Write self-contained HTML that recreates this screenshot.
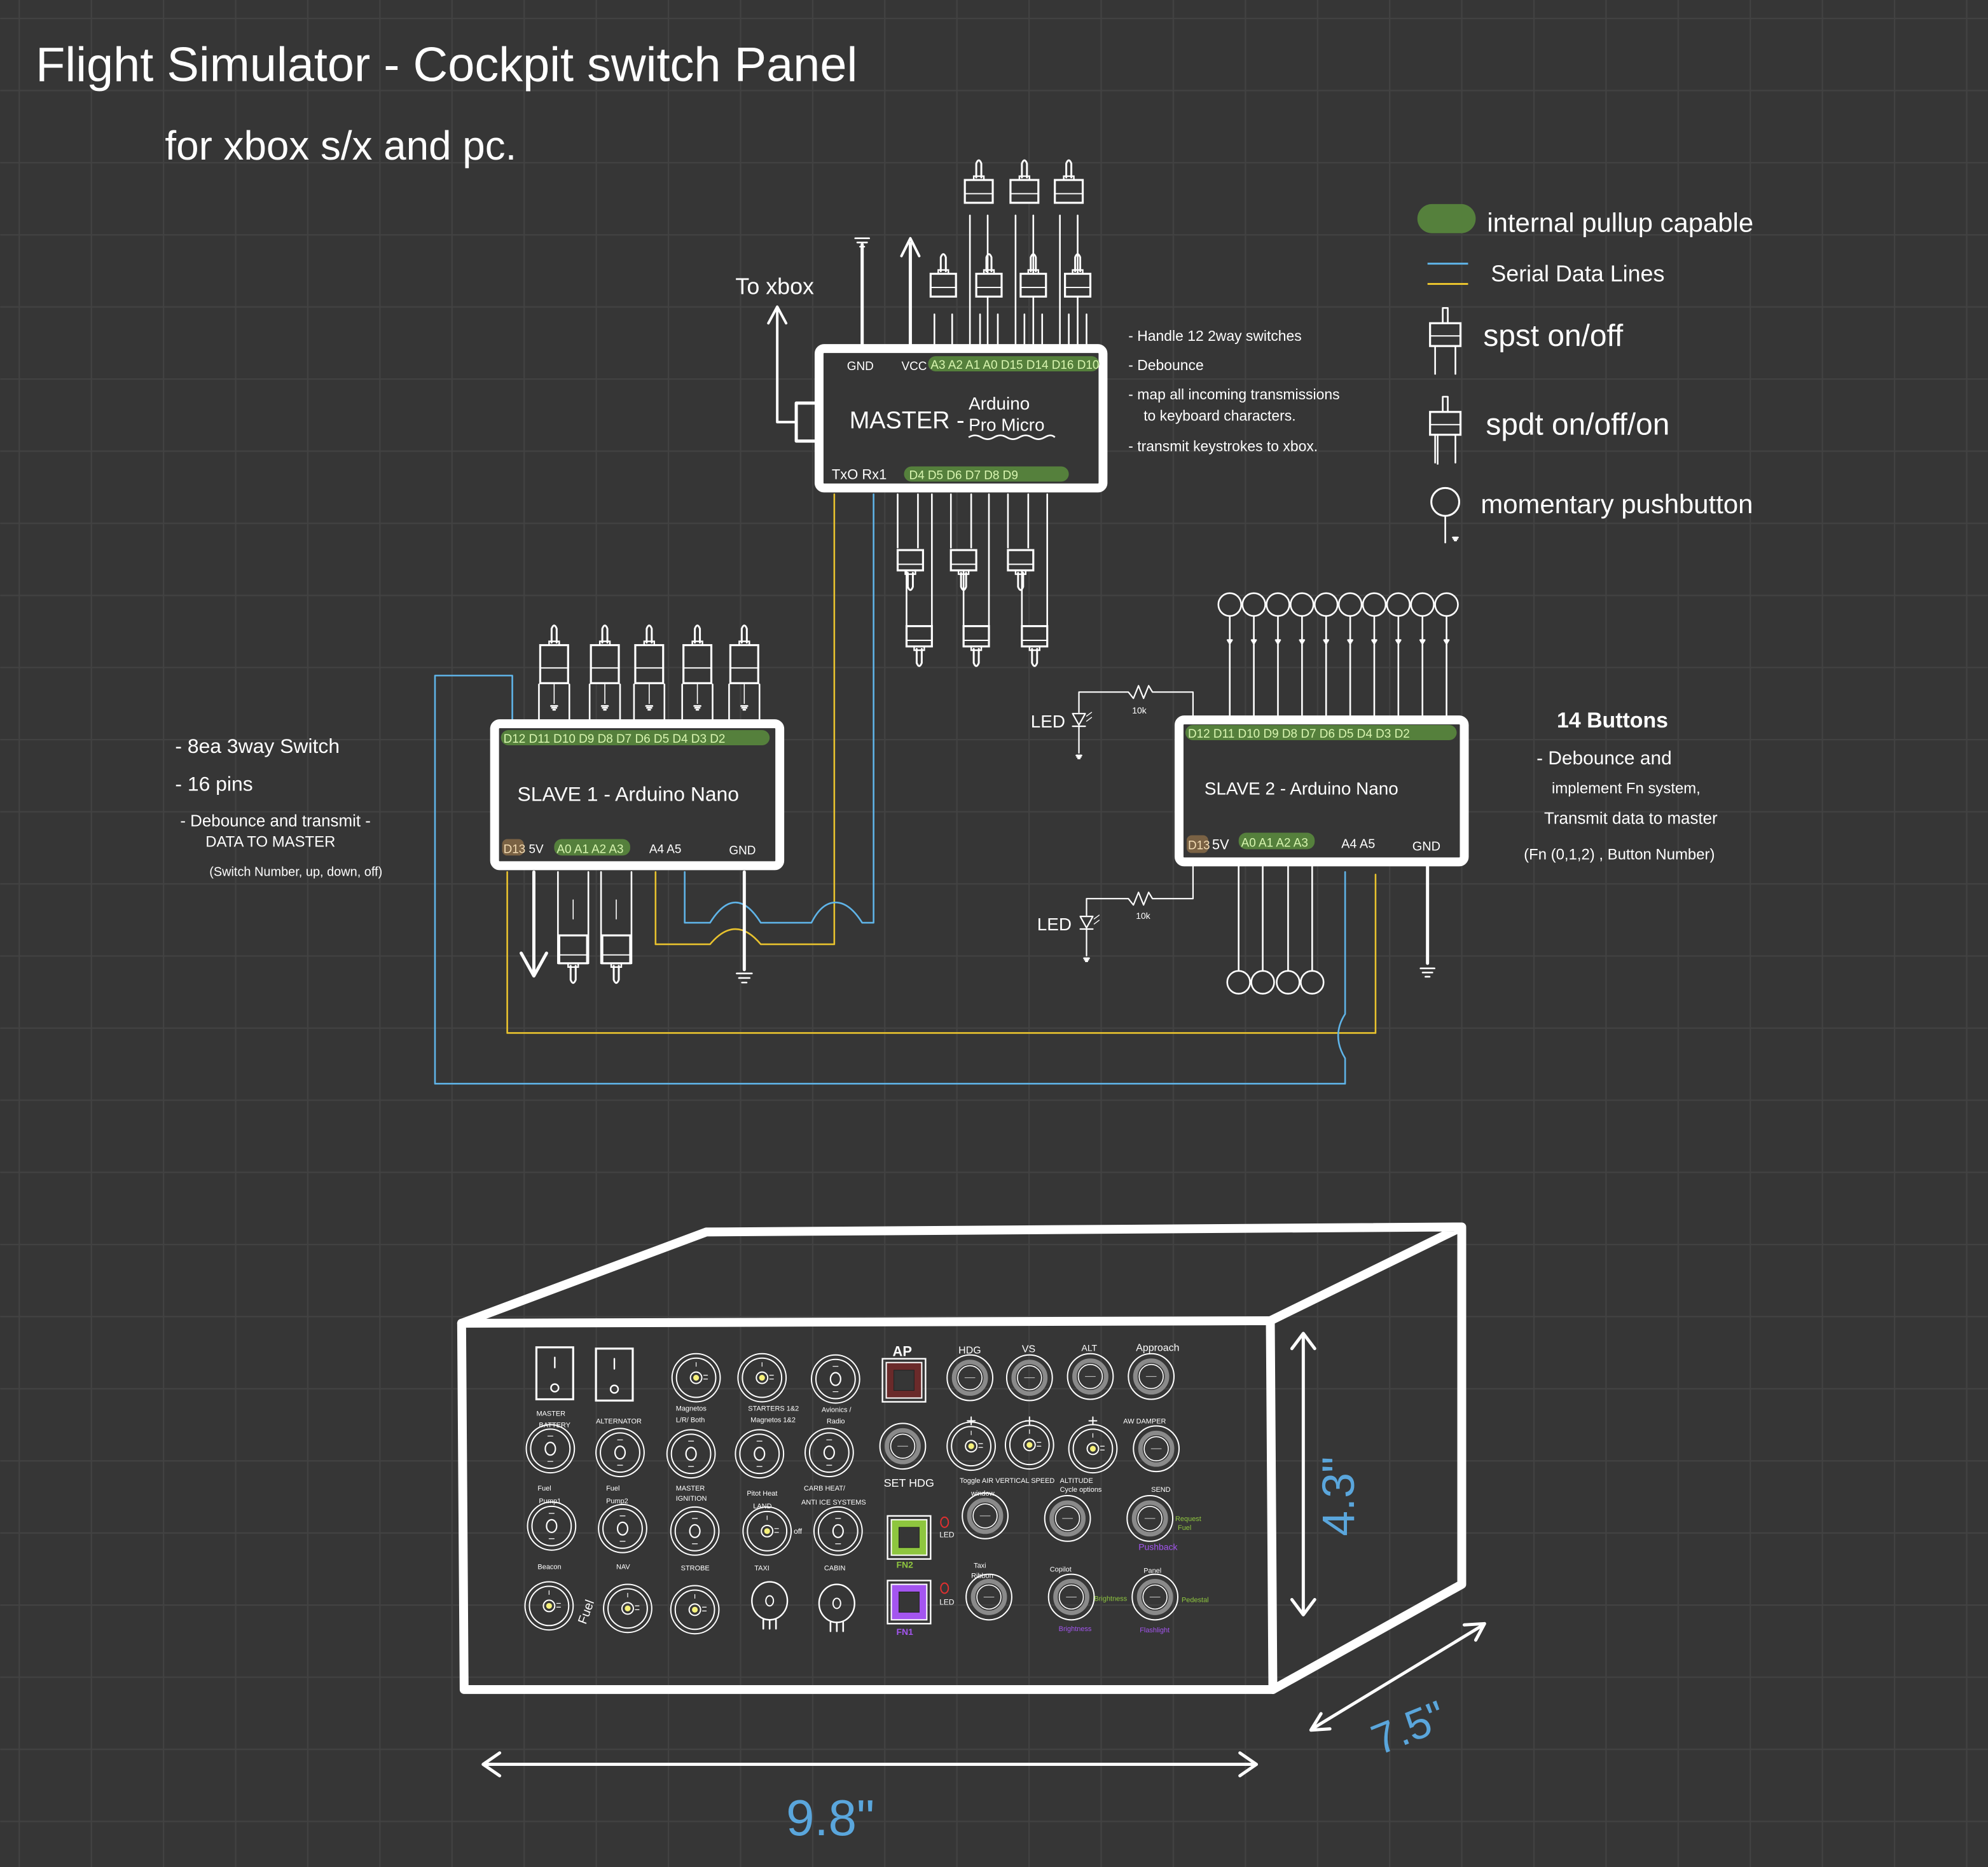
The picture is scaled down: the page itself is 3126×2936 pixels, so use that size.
<!DOCTYPE html>
<html><head><meta charset="utf-8"><style>
html,body{margin:0;padding:0;background:#363636;}
svg{display:block}
text{font-family:"Liberation Sans",sans-serif;fill:#fff}
</style></head><body>
<svg id="s" width="3126" height="2936" viewBox="0 0 1568 1473" xmlns="http://www.w3.org/2000/svg">
<defs>
<pattern id="g" x="14.5" y="14" width="56.9" height="56.9" patternUnits="userSpaceOnUse">
<path d="M0 0H56.9M0 0V56.9" stroke="#424242" stroke-width="2.2" fill="none"/>
</pattern>
</defs>
<rect width="1568" height="1473" fill="#363636"/>
<rect width="1568" height="1473" fill="url(#g)"/>
<g id="shapes"></g>

<!-- title -->
<text x="28" y="64" font-size="38">Flight Simulator - Cockpit switch Panel</text>
<text x="130" y="126" font-size="32">for xbox s/x  and  pc.</text>

<!-- legend -->
<rect x="1118" y="161" width="46" height="23" rx="11.5" fill="#55803c"/>
<text x="1173" y="183" font-size="21">internal pullup capable</text>
<line x1="1126" y1="208" x2="1158" y2="208" stroke="#5fb4e8" stroke-width="1.5"/>
<line x1="1126" y1="224" x2="1158" y2="224" stroke="#e8c22e" stroke-width="1.5"/>
<text x="1176" y="222" font-size="18">Serial  Data  Lines</text>
<text x="1170" y="273" font-size="24">spst  on/off</text>
<text x="1172" y="343" font-size="24">spdt  on/off/on</text>
<text x="1168" y="405" font-size="21">momentary pushbutton</text>

<!-- master -->
<rect x="646" y="275" width="224" height="110" rx="4" fill="#363636" stroke="#fff" stroke-width="7"/>
<rect x="732" y="281" width="135" height="12" rx="6" fill="#55803c"/>
<text x="668" y="292" font-size="9.5">GND</text>
<text x="711" y="292" font-size="9.5">VCC</text>
<text x="734" y="291" font-size="9.5" style="fill:#d8f5b0">A3 A2 A1 A0 D15 D14 D16 D10</text>
<text x="670" y="338" font-size="19">MASTER -</text>
<text x="764" y="323" font-size="14">Arduino</text>
<text x="764" y="340" font-size="14">Pro Micro</text>
<path d="M764 345q5-3 10 0t10 0 10 0 10 0 10 0 10 0 8 0" stroke="#fff" stroke-width="1.3" fill="none"/>
<text x="656" y="378" font-size="11">TxO Rx1</text>
<rect x="713" y="368" width="130" height="12" rx="6" fill="#55803c"/>
<text x="717" y="378" font-size="9.5" style="fill:#d8f5b0">D4 D5 D6 D7 D8 D9</text>
<text x="580" y="232" font-size="18">To xbox</text>

<!-- master notes -->
<text x="890" y="269" font-size="11.5">- Handle 12 2way switches</text>
<text x="890" y="292" font-size="11.5">- Debounce</text>
<text x="890" y="315" font-size="11.5">- map all incoming transmissions</text>
<text x="902" y="332" font-size="11.5">to keyboard characters.</text>
<text x="890" y="356" font-size="11.5">- transmit keystrokes to xbox.</text>

<!-- slave 1 -->
<rect x="390" y="571" width="225" height="112" rx="4" fill="#363636" stroke="#fff" stroke-width="7"/>
<rect x="395" y="576" width="212" height="12" rx="6" fill="#55803c"/>
<text x="397" y="586" font-size="9.5" style="fill:#d8f5b0">D12 D11 D10 D9 D8 D7 D6 D5 D4 D3 D2</text>
<text x="408" y="632" font-size="16">SLAVE 1  - Arduino Nano</text>
<rect x="396" y="662" width="17" height="13" rx="4" fill="#7a6244"/>
<text x="397" y="673" font-size="9.5" style="fill:#f3dcb4">D13</text>
<text x="417" y="673" font-size="9.5">5V</text>
<rect x="437" y="662" width="60" height="13" rx="6" fill="#55803c"/>
<text x="439" y="673" font-size="9.5" style="fill:#d8f5b0">A0 A1 A2 A3</text>
<text x="512" y="673" font-size="9.5">A4 A5</text>
<text x="575" y="674" font-size="9.5">GND</text>

<!-- slave1 notes -->
<text x="138" y="594" font-size="16">- 8ea 3way Switch</text>
<text x="138" y="624" font-size="16">- 16 pins</text>
<text x="142" y="652" font-size="13">- Debounce and transmit -</text>
<text x="162" y="668" font-size="12">DATA TO MASTER</text>
<text x="165" y="691" font-size="10">(Switch Number, up, down, off)</text>

<!-- slave 2 -->
<rect x="930" y="568" width="225" height="112" rx="4" fill="#363636" stroke="#fff" stroke-width="7"/>
<rect x="935" y="572" width="214" height="12" rx="6" fill="#55803c"/>
<text x="937" y="582" font-size="9.5" style="fill:#d8f5b0">D12 D11 D10 D9 D8 D7 D6 D5 D4 D3 D2</text>
<text x="950" y="627" font-size="14">SLAVE 2 - Arduino Nano</text>
<rect x="936" y="659" width="17" height="14" rx="4" fill="#7a6244"/>
<text x="937" y="670" font-size="9.5" style="fill:#f3dcb4">D13</text>
<text x="956" y="670" font-size="11">5V</text>
<rect x="977" y="657" width="60" height="13" rx="6" fill="#55803c"/>
<text x="979" y="668" font-size="9.5" style="fill:#d8f5b0">A0 A1 A2 A3</text>
<text x="1058" y="669" font-size="10">A4 A5</text>
<text x="1114" y="671" font-size="10">GND</text>
<text x="813" y="574" font-size="14">LED</text>
<text x="893" y="563" font-size="7">10k</text>
<text x="818" y="734" font-size="14">LED</text>
<text x="896" y="725" font-size="7">10k</text>

<!-- slave2 notes -->
<text x="1228" y="574" font-size="17" font-weight="bold">14 Buttons</text>
<text x="1212" y="603" font-size="15">- Debounce  and</text>
<text x="1224" y="626" font-size="12">implement  Fn  system,</text>
<text x="1218" y="650" font-size="13">Transmit data to master</text>
<text x="1202" y="678" font-size="12">(Fn (0,1,2) , Button Number)</text>

<!-- dimensions text -->
<text x="620" y="1448" font-size="40" style="fill:#5aa6dc">9.8"</text>
<text transform="translate(1068,1212) rotate(-90)" font-size="36" style="fill:#5aa6dc">4.3"</text>
<text transform="translate(1088,1385) rotate(-22)" font-size="34" style="fill:#5aa6dc">7.5"</text>

<!-- panel labels -->
<g font-size="5.5">
<text x="423" y="1117">MASTER</text><text x="425" y="1126">BATTERY</text>
<text x="470" y="1123">ALTERNATOR</text>
<text x="533" y="1113">Magnetos</text><text x="533" y="1122">L/R/ Both</text>
<text x="590" y="1113">STARTERS 1&amp;2</text><text x="592" y="1122">Magnetos 1&amp;2</text>
<text x="648" y="1114">Avionics /</text><text x="652" y="1123">Radio</text>
<text x="424" y="1176">Fuel</text><text x="425" y="1186">Pump1</text>
<text x="478" y="1176">Fuel</text><text x="478" y="1186">Pump2</text>
<text x="533" y="1176">MASTER</text><text x="533" y="1184">IGNITION</text>
<text x="589" y="1180">Pitot Heat</text><text x="594" y="1190">LAND</text>
<text x="634" y="1176">CARB HEAT/</text><text x="632" y="1187">ANTI ICE SYSTEMS</text>
<text x="424" y="1238">Beacon</text><text x="486" y="1238">NAV</text>
<text x="537" y="1239">STROBE</text><text x="595" y="1239">TAXI</text><text x="650" y="1239">CABIN</text>
<text x="757" y="1170">Toggle AIR VERTICAL SPEED</text>
<text x="766" y="1180">window</text>
<text x="836" y="1170">ALTITUDE</text><text x="836" y="1177">Cycle options</text>
<text x="886" y="1123">AW DAMPER</text>
<text x="908" y="1177">SEND</text>
<text x="768" y="1237">Taxi</text><text x="766" y="1245">Ribbon</text>
<text x="828" y="1240">Copilot</text>
<text x="902" y="1241">Panel</text>
</g>
<text x="704" y="1070" font-size="11" font-weight="bold">AP</text>
<text x="756" y="1068" font-size="8">HDG</text>
<text x="806" y="1067" font-size="8">VS</text>
<text x="853" y="1066" font-size="7">ALT</text>
<text x="896" y="1066" font-size="8">Approach</text>
<text x="697" y="1173" font-size="9">SET HDG</text>
<text x="707" y="1237" font-size="7" font-weight="bold" style="fill:#8ec63f">FN2</text>
<text x="707" y="1290" font-size="7" font-weight="bold" style="fill:#a455f0">FN1</text>
<text x="741" y="1213" font-size="6">LED</text>
<text x="741" y="1266" font-size="6">LED</text>
<g font-size="5.5">
<text x="927" y="1200" style="fill:#8ec63f">Request</text><text x="929" y="1207" style="fill:#8ec63f">Fuel</text>
<text x="898" y="1223" font-size="7" style="fill:#a455f0">Pushback</text>
<text x="863" y="1263" style="fill:#8ec63f">Brightness</text>
<text x="932" y="1264" style="fill:#8ec63f">Pedestal</text>
<text x="835" y="1287" style="fill:#a455f0">Brightness</text>
<text x="899" y="1288" style="fill:#a455f0">Flashlight</text>
</g>
<text transform="translate(462,1282) rotate(-70)" font-size="10">Fuel</text>
<text x="626" y="1210" font-size="6">off</text>

<script>
(function(){
var NS="http://www.w3.org/2000/svg",G=document.getElementById("shapes");
function el(t,a,p){var e=document.createElementNS(NS,t);for(var k in a)e.setAttribute(k,a[k]);(p||G).appendChild(e);return e;}
function ln(x1,y1,x2,y2,c,w){return el("line",{x1:x1,y1:y1,x2:x2,y2:y2,stroke:c||"#fff","stroke-width":w||1.3,"stroke-linecap":"round"});}
function pth(d,c,w,f){return el("path",{d:d,stroke:c||"#fff","stroke-width":w||1.3,fill:f||"none","stroke-linejoin":"round","stroke-linecap":"round"});}
function gnd(x,y,s){s=s||1;ln(x-5*s,y,x+5*s,y);ln(x-3.5*s,y+3*s,x+3.5*s,y+3*s);ln(x-1.5*s,y+6*s,x+1.5*s,y+6*s);}
function swUp(x,yt,bh,w){w=w||11;
 pth("M"+(x-2)+" "+(yt+14)+"V"+(yt+3)+"Q"+x+" "+(yt-2)+" "+(x+2)+" "+(yt+3)+"V"+(yt+14),"#fff",1.5);
 el("rect",{x:x-4,y:yt+13,width:8,height:3,fill:"none",stroke:"#fff","stroke-width":1.2});
 el("rect",{x:x-w,y:yt+16,width:2*w,height:bh,fill:"#363636",stroke:"#fff","stroke-width":1.6});
 ln(x-w,yt+16+bh*0.6,x+w,yt+16+bh*0.6,"#fff",1);}
function swDn(x,yb,bh,w){w=w||11;
 pth("M"+(x-2)+" "+(yb-14)+"V"+(yb-3)+"Q"+x+" "+(yb+2)+" "+(x+2)+" "+(yb-3)+"V"+(yb-14),"#fff",1.5);
 el("rect",{x:x-4,y:yb-16,width:8,height:3,fill:"none",stroke:"#fff","stroke-width":1.2});
 el("rect",{x:x-w,y:yb-16-bh,width:2*w,height:bh,fill:"#363636",stroke:"#fff","stroke-width":1.6});
 ln(x-w,yb-16-bh*0.3,x+w,yb-16-bh*0.3,"#fff",1);}

ln(680,272,680,193,"#fff",2.5);gnd(680,188,1.1);
ln(718,272,718,192,"#fff",2.5);pth("M711 202L718 188L725 202","#fff",2);
pth("M613 245V333H628","#fff",2);pth("M606 255L613 242L620 255","#fff",2);
pth("M643 318H628V348H643","#fff",2.5);
[772,808,843].forEach(function(x){ln(x-7,170,x-7,272);ln(x+7,170,x+7,272);swUp(x,126,18);});
[744,780,815,850].forEach(function(x){ln(x-7,248,x-7,272);ln(x+7,248,x+7,272);swUp(x,200,18,10);});
[718,760,805].forEach(function(x){ln(x-10,390,x-10,432);ln(x+6,390,x+6,432);swDn(x,466,16,10);});
[725,770,816].forEach(function(x){ln(x-10,450,x-10,494);ln(x+10,390,x+10,494);swDn(x,526,16,10);});
var Y="#e8c22e",B="#5fb4e8";
pth("M658 390V745H600Q590 733 580 733Q570 733 560 745H517V688",Y,1.3);
pth("M689 390V728H680Q670 712 659 712Q648 712 640 728H600Q590 712 580 712Q570 712 560 728H540V688",B,1.3);
pth("M400 688V815H1085V690",Y,1.3);
pth("M404 569V533H343V855H1061V835Q1050 817 1061 800V688",B,1.3);
[437,477,512,550,587].forEach(function(x){ln(x-12,540,x-12,569);ln(x+12,540,x+12,569);ln(x,540,x,555,"#fff",0.8);gnd(x,557,0.5);swUp(x,493,30,11);});
ln(421,688,421,768,"#fff",2.5);pth("M411 752L421 770L431 752","#fff",2.5);
[452,486].forEach(function(x){ln(x-12,688,x-12,760);ln(x+12,688,x+12,760);ln(x,710,x,725,"#fff",0.8);swDn(x,776,22,11);});
ln(587,688,587,765,"#fff",2.5);gnd(587,768,1.2);
for(var i=0;i<10;i++){var x=970+i*19;ln(x,486,x,566);el("circle",{cx:x,cy:477,r:9,fill:"#363636",stroke:"#fff","stroke-width":1.3});gnd(x,505,0.35);}
[977,996,1016,1035].forEach(function(x){ln(x,681,x,766);el("circle",{cx:x,cy:775,r:9,fill:"#363636",stroke:"#fff","stroke-width":1.3});});
ln(1126,681,1126,760,"#fff",2.5);gnd(1126,764,1.1);
function led(y0,yr,xd,yd){pth("M941 "+y0+"V"+yr+"H909L906 "+(yr-5)+"L902 "+(yr+5)+"L898 "+(yr-5)+"L894 "+(yr+5)+"L890 "+yr+"H"+xd+"V"+(yd-6),"#fff",1.1);
 pth("M"+(xd-5)+" "+(yd-5)+"H"+(xd+5)+"L"+xd+" "+(yd+4)+"Z","#fff",1.1);ln(xd-5,yd+5,xd+5,yd+5,"#fff",1.1);
 ln(xd+6,yd-3,xd+10,yd-6,"#fff",0.7);ln(xd+6,yd+1,xd+10,yd-2,"#fff",0.7);
 ln(xd,yd+5,xd,yd+26,"#fff",1.1);gnd(xd,yd+28,0.4);}
led(566,546,851,568);led(681,709,857,728);

function legSw(x,y){pth("M"+(x-2)+" "+(y+12)+"V"+y+"H"+(x+2)+"V"+(y+12),"#fff",1.3);el("rect",{x:x-12,y:y+12,width:24,height:18,fill:"none",stroke:"#fff","stroke-width":1.6});
 ln(x-8,y+30,x-8,y+52);ln(x+8,y+30,x+8,y+52);ln(x-12,y+22,x+12,y+22,"#fff",1);}
legSw(1140,243);legSw(1140,313);
ln(1134,343,1134,366);
el("circle",{cx:1140,cy:396,r:11,fill:"none",stroke:"#fff","stroke-width":1.5});ln(1140,407,1140,428);gnd(1148,424,0.4);

pth("M364 1044L1002 1042L1004 1333L366 1333Z","#fff",7);
pth("M364 1044L557 972L1153 968L1002 1042M1153 968V1250L1004 1333","#fff",7);
ln(382,1392,990,1392,"#fff",2.5);pth("M394 1383L381 1392L394 1401M978 1383L991 1392L978 1401","#fff",2.5);
ln(1028,1054,1028,1272,"#fff",2.5);pth("M1019 1064L1028 1052L1037 1064M1019 1262L1028 1274L1037 1262","#fff",2.5);
ln(1035,1364,1170,1282,"#fff",2.5);pth("M1042 1352L1034 1365L1049 1364M1155 1282L1171 1281L1164 1294","#fff",2.5);

function rot(x,y,yellow){el("circle",{cx:x,cy:y,r:19,fill:"none",stroke:"#fff","stroke-width":1});el("circle",{cx:x,cy:y,r:15.5,fill:"none",stroke:"#fff","stroke-width":1});
 if(yellow){el("circle",{cx:x,cy:y,r:4.5,fill:"none",stroke:"#fff","stroke-width":1});el("circle",{cx:x,cy:y,r:2.3,fill:"#f5f07a"});ln(x,y-12,x,y-9,"#fff",.6);ln(x+6,y-2,x+9,y-2,"#fff",.6);ln(x+6,y+1,x+9,y+1,"#fff",.6);}
 else{el("ellipse",{cx:x,cy:y,rx:4,ry:5,fill:"none",stroke:"#fff","stroke-width":1.1});ln(x-2,y-10,x+2,y-10,"#fff",.6);ln(x-2,y+10,x+2,y+10,"#fff",.6);}}
function push(x,y){el("circle",{cx:x,cy:y,r:18,fill:"none",stroke:"#fff","stroke-width":1});el("circle",{cx:x,cy:y,r:12.5,fill:"none",stroke:"#8a8a8a","stroke-width":3.5});el("circle",{cx:x,cy:y,r:9.5,fill:"none",stroke:"#fff","stroke-width":.8});ln(x-4,y,x+4,y,"#ccc",.5);}
function sq(x,y,c){el("rect",{x:x,y:y,width:34,height:34,fill:"none",stroke:"#fff","stroke-width":1.2});el("rect",{x:x+3,y:y+3,width:28,height:28,fill:c,stroke:"#fff","stroke-width":1});el("rect",{x:x+9,y:y+9,width:16,height:16,fill:"#363636",stroke:"#222","stroke-width":.5});}
function rock(x,y){el("rect",{x:x,y:y,width:29,height:41,fill:"none",stroke:"#fff","stroke-width":1.6});ln(x+14.5,y+8,x+14.5,y+16,"#fff",1.2);el("circle",{cx:x+14.5,cy:y+32,r:3,fill:"none",stroke:"#fff","stroke-width":1.2});}
rock(423,1063);rock(470,1064);
rot(549,1087,1);rot(601,1087,1);rot(659,1088,0);
sq(696,1072,"#6a2a2a");push(765,1087);push(812,1087);push(860,1086);push(908,1086);
rot(434,1143,0);rot(489,1146,0);rot(545,1147,0);rot(599,1147,0);rot(654,1146,0);
push(712,1141);rot(766,1141,1);rot(812,1140,1);rot(862,1143,1);push(912,1143);
rot(435,1204,0);rot(491,1206,0);rot(548,1208,0);rot(605,1208,1);rot(661,1208,0);
sq(700,1196,"#8ec63f");push(777,1196);push(842,1198);push(907,1198);
rot(433,1267,1);rot(495,1269,1);rot(548,1270,1);
[[607,1263],[660,1265]].forEach(function(p){el("ellipse",{cx:p[0],cy:p[1],rx:14,ry:15,fill:"none",stroke:"#fff","stroke-width":1.2});el("ellipse",{cx:p[0],cy:p[1],rx:3,ry:4,fill:"none",stroke:"#fff","stroke-width":1});ln(p[0]-5,p[1]+15,p[0]-5,p[1]+22);ln(p[0],p[1]+15,p[0],p[1]+22);ln(p[0]+5,p[1]+15,p[0]+5,p[1]+22);});
sq(700,1247,"#a455f0");push(780,1260);push(845,1260);push(911,1260);
el("ellipse",{cx:745,cy:1201,rx:3,ry:4,fill:"none",stroke:"#e03030","stroke-width":1});
el("ellipse",{cx:745,cy:1253,rx:3,ry:4,fill:"none",stroke:"#e03030","stroke-width":1});
[766,812,862].forEach(function(x){ln(x-3,1121,x+3,1121,"#fff",1);ln(x,1118,x,1124,"#fff",1);});
})();
</script>
</svg>
</body></html>
